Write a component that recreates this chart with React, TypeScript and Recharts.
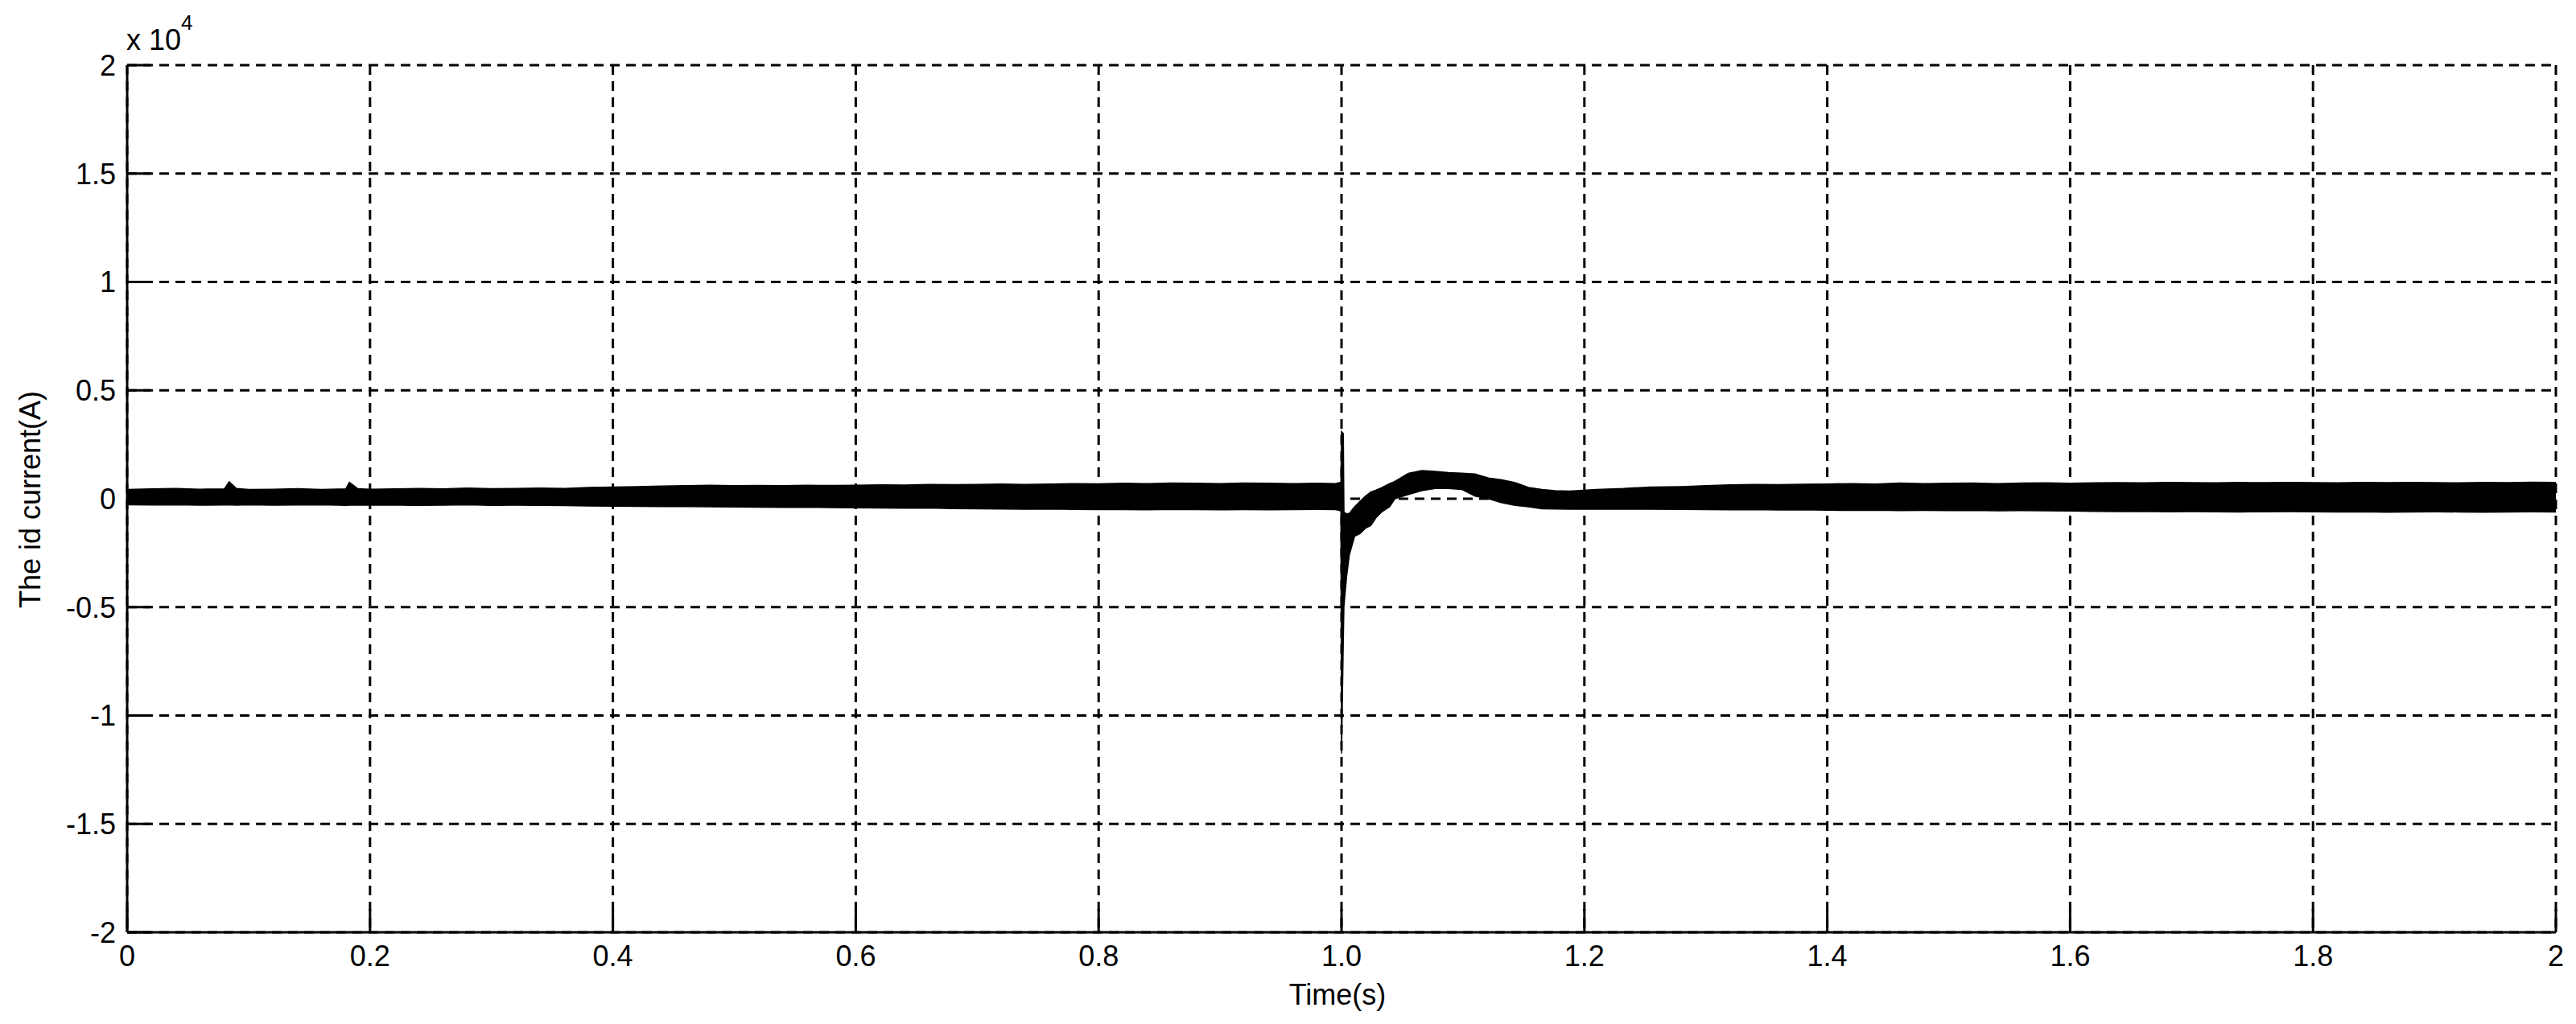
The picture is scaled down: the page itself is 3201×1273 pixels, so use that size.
import React from "react";
import { ComposedChart, Area, XAxis, YAxis, CartesianGrid } from "recharts";

const W = 3200;
const H = 1270;
const FONT = '"Liberation Sans", Arial, sans-serif';

const xTicks = [0, 0.2, 0.4, 0.6, 0.8, 1.0, 1.2, 1.4, 1.6, 1.8, 2];
const xTickLabels = ["0", "0.2", "0.4", "0.6", "0.8", "1.0", "1.2", "1.4", "1.6", "1.8", "2"];
const yTicks = [-20000, -15000, -10000, -5000, 0, 5000, 10000, 15000, 20000];
const yTickLabels = ["-2", "-1.5", "-1", "-0.5", "0", "0.5", "1", "1.5", "2"];

// id current envelope (A): top / bottom of the noisy band
// steady state before the step at t = 1 s
const preTime = [
  0, 0.02, 0.04, 0.06, 0.08, 0.084, 0.09, 0.1, 0.12, 0.14, 0.16, 0.18, 0.183, 0.19, 0.2,
  0.22, 0.24, 0.26, 0.28, 0.3, 0.32, 0.34, 0.36, 0.38, 0.4,
  0.42, 0.44, 0.46, 0.48, 0.5, 0.52, 0.54, 0.56, 0.58, 0.6,
  0.62, 0.64, 0.66, 0.68, 0.7, 0.72, 0.74, 0.76, 0.78, 0.8,
  0.82, 0.84, 0.86, 0.88, 0.9, 0.92, 0.94, 0.96, 0.98, 0.995, 0.9995,
];
const preHigh = [
  430, 450, 470, 440, 450, 780, 470, 430, 440, 460, 430, 450, 760, 460, 440,
  450, 470, 450, 490, 460, 470, 490, 470, 520, 540,
  560, 580, 600, 620, 600, 610, 600, 620, 610, 620,
  640, 630, 660, 650, 660, 680, 660, 680, 700, 690,
  710, 700, 720, 710, 700, 720, 710, 700, 710, 700, 760,
];
const preLow = [
  -280, -290, -280, -300, -290, -280, -300, -280, -300, -290, -280, -310, -300, -290, -300,
  -290, -310, -300, -280, -310, -300, -310, -320, -330, -340,
  -350, -360, -360, -370, -380, -390, -400, -390, -410, -420,
  -430, -440, -430, -450, -460, -470, -480, -470, -490, -500,
  -500, -510, -490, -500, -510, -500, -510, -500, -490, -500, -560,
];

// transient after the step
const stepTime = [
  1.0, 1.0015, 1.002, 1.0042, 1.0064, 1.0108, 1.0152, 1.0197, 1.0241, 1.0285, 1.0329, 1.0396, 1.044,
  1.055, 1.066, 1.077, 1.088, 1.099, 1.11, 1.121, 1.132, 1.143, 1.154, 1.165, 1.176, 1.188, 1.21, 1.232, 1.254,
];
const stepHigh = [
  3090, 3000, -620, -700, -680, -370, -120, 120, 310, 400, 500, 700, 800,
  1170, 1300, 1260, 1210, 1180, 1140, 960, 870, 740, 520, 430, 370, 350, 430, 470, 540,
];
const stepLow = [
  -11750, -6500, -4950, -3590, -2600, -1730, -1610, -1360, -1240, -870, -620, -370, 0,
  190, 370, 470, 470, 430, 120, 0, -190, -310, -370, -460, -470, -480, -480, -480, -480,
];

// settled
const postTime = [
  1.28, 1.3, 1.32, 1.34, 1.36, 1.38, 1.4, 1.42, 1.44, 1.46, 1.48, 1.5, 1.52, 1.54, 1.56, 1.58, 1.6,
  1.62, 1.64, 1.66, 1.68, 1.7, 1.72, 1.74, 1.76, 1.78, 1.8, 1.82, 1.84, 1.86, 1.88, 1.9, 1.92, 1.94,
  1.96, 1.98, 2.0,
];
const postHigh = [
  560, 600, 640, 660, 650, 670, 680, 700, 680, 720, 700, 710, 720, 700, 720, 730, 710,
  730, 740, 730, 750, 740, 730, 750, 740, 750, 740, 730, 750, 740, 750, 740, 730, 750,
  740, 760, 750,
];
const postLow = [
  -490, -500, -510, -500, -520, -510, -530, -540, -530, -550, -540, -550, -540, -560, -550, -560, -570,
  -580, -590, -580, -600, -590, -600, -610, -600, -590, -600, -610, -600, -620, -610, -600, -610, -620,
  -610, -600, -610,
];

const time = [...preTime, ...stepTime, ...postTime];
const high = [...preHigh, ...stepHigh, ...postHigh];
const low = [...preLow, ...stepLow, ...postLow];
const data = time.map((t, i) => ({ t, band: [low[i], high[i]] }));

const tickStyle = { fill: "#000", fontSize: 36, fontFamily: FONT };
const axisLine = { stroke: "#000", strokeWidth: 3 };
const tickLine = { stroke: "#000", strokeWidth: 3 };

export default function App() {
  return (
    <div style={{ position: "absolute", left: 0, top: 0, width: W, height: H, background: "#fff" }}>
      <ComposedChart width={W} height={H} data={data} margin={{ top: 81, right: 24, bottom: 51, left: 0 }}>
        <CartesianGrid stroke="#000" strokeWidth={3} strokeDasharray="12 8" />
        <XAxis
          dataKey="t"
          type="number"
          domain={[0, 2]}
          ticks={xTicks}
          interval={0}
          allowDataOverflow
          tickFormatter={(v) => xTickLabels[xTicks.indexOf(v)]}
          height={60}
          tickSize={-29}
          tickMargin={45}
          axisLine={axisLine}
          tickLine={tickLine}
          tick={tickStyle}
        />
        <XAxis
          xAxisId="top"
          orientation="top"
          type="number"
          domain={[0, 2]}
          ticks={xTicks}
          interval={0}
          allowDataOverflow
          height={0}
          tickSize={-29}
          axisLine={axisLine}
          tickLine={tickLine}
          tick={false}
        />
        <YAxis
          type="number"
          domain={[-20000, 20000]}
          ticks={yTicks}
          interval={0}
          allowDataOverflow
          tickFormatter={(v) => yTickLabels[yTicks.indexOf(v)]}
          width={158}
          tickSize={-29}
          tickMargin={43}
          axisLine={axisLine}
          tickLine={tickLine}
          tick={tickStyle}
        />
        <YAxis
          yAxisId="right"
          orientation="right"
          type="number"
          domain={[-20000, 20000]}
          ticks={yTicks}
          interval={0}
          allowDataOverflow
          width={0}
          tickSize={-29}
          axisLine={axisLine}
          tickLine={tickLine}
          tick={false}
        />
        <Area
          dataKey="band"
          type="linear"
          stroke="#000"
          strokeWidth={1.5}
          fill="#000"
          fillOpacity={1}
          dot={false}
          activeDot={false}
          isAnimationActive={false}
        />
      </ComposedChart>
      <svg
        width={W}
        height={H}
        style={{ position: "absolute", left: 0, top: 0, pointerEvents: "none" }}
        fontFamily={FONT}
      >
        <text x={157} y={62} fontSize={36} fill="#000">
          x 10
          <tspan dy={-25} fontSize={26}>
            4
          </tspan>
        </text>
        <text x={1662} y={1249} fontSize={36} textAnchor="middle" fill="#000">
          Time(s)
        </text>
        <text x={50} y={621} fontSize={36} textAnchor="middle" fill="#000" transform="rotate(-90 50 621)">
          The id current(A)
        </text>
      </svg>
    </div>
  );
}
